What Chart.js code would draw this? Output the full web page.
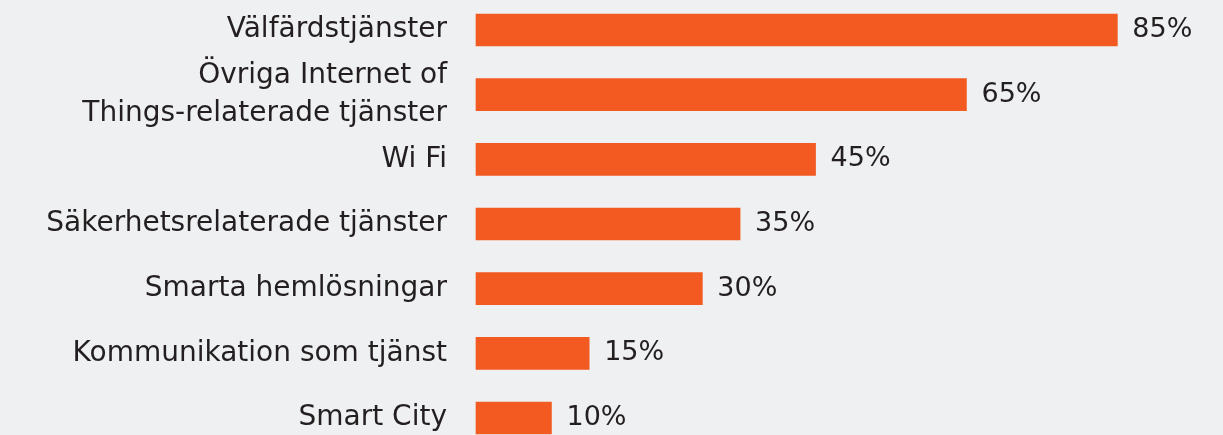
<!DOCTYPE html>
<html lang="sv">
<head>
    <meta charset="UTF-8">
    <title>Tjänster</title>
    <script src="https://cdn.jsdelivr.net/npm/chart.js"></script>
    <style>
        body {
            margin: 0;
            background-color: #eff0f2;
        }
        .wrap {
            width: 1223px;
            height: 435px;
            position: relative;
        }
    </style>
</head>
<body>
    <div class="wrap"><canvas id="chart"></canvas></div>

    <script>
        const categories = [
            'Välfärdstjänster',
            ['Övriga Internet of', 'Things-relaterade tjänster'],
            'Wi Fi',
            'Säkerhetsrelaterade tjänster',
            'Smarta hemlösningar',
            'Kommunikation som tjänst',
            'Smart City'
        ];
        const shares = [85, 65, 45, 35, 30, 15, 10];

        const textColor = '#231f20';
        const barColor = '#f25a22';
        const fontFamily = '"DejaVu Sans", sans-serif';

        // skriver ut procentsatsen till höger om varje stapel
        const valueLabels = {
            id: 'valueLabels',
            afterDatasetsDraw(chart) {
                const ctx = chart.ctx;
                const meta = chart.getDatasetMeta(0);
                ctx.save();
                ctx.font = '27px ' + fontFamily;
                ctx.fillStyle = textColor;
                ctx.textAlign = 'left';
                ctx.textBaseline = 'middle';
                meta.data.forEach((bar, i) => {
                    ctx.fillText(shares[i] + '%', bar.x + 15, bar.y);
                });
                ctx.restore();
            }
        };

        new Chart(document.getElementById('chart'), {
            type: 'bar',
            data: {
                labels: categories,
                datasets: [{
                    data: shares,
                    backgroundColor: barColor,
                    borderWidth: 0,
                    barThickness: 32,
                    clip: false
                }]
            },
            options: {
                indexAxis: 'y',
                responsive: true,
                maintainAspectRatio: false,
                animation: false,
                layout: {padding: {top: 30, bottom: 17, left: 0, right: 0}},
                plugins: {legend: {display: false}, tooltip: {enabled: false}},
                scales: {
                    x: {display: false, min: 0, max: 99},
                    y: {
                        offset: false,
                        grid: {display: false},
                        border: {display: false},
                        ticks: {
                            color: textColor,
                            padding: 21,
                            autoSkip: false,
                            font: {family: fontFamily, size: 28, lineHeight: 1.35}
                        },
                        afterFit(scale) {
                            scale.width = 476;
                            scale.paddingTop = 0;
                            scale.paddingBottom = 0;
                        }
                    }
                }
            },
            plugins: [valueLabels]
        });
    </script>
</body>
</html>
